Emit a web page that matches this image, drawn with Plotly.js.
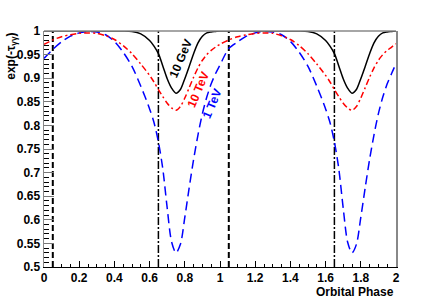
<!DOCTYPE html>
<html>
<head>
<meta charset="utf-8">
<script src="https://cdn.plot.ly/plotly-3.0.1.min.js"></script>
<style>html,body{margin:0;padding:0;background:#fff}#chart{width:440px;height:301px}</style>
</head>
<body>
<div id="chart"></div>
<script>
// Orbital phase samples (two orbits)
const phase = [0,0.05,0.1,0.15,0.2,0.25,0.3,0.35,0.4,0.45,0.5,0.55,0.6,0.625,0.65,0.675,0.7,0.725,0.75,0.775,0.8,0.825,0.85,0.875,0.9,0.925,0.95,0.975,1.0,
  1.05,1.1,1.15,1.2,1.25,1.3,1.35,1.4,1.45,1.5,1.55,1.6,1.625,1.65,1.675,1.7,1.725,1.75,1.775,1.8,1.825,1.85,1.875,1.9,1.925,1.95,1.975,2.0];
// exp(-tau) for 10 GeV photons
const gev10 = [1.0,1.0,1.0,1.0,1.0,1.0,1.0,1.0,1.0,1.0,0.999,0.994,0.980,0.968,0.952,0.926,0.899,0.879,0.868,0.876,0.899,0.925,0.952,0.975,0.989,0.996,0.998,0.999,1.0,
  1.0,1.0,1.0,1.0,1.0,1.0,1.0,1.0,1.0,0.999,0.994,0.980,0.968,0.952,0.926,0.899,0.879,0.868,0.876,0.899,0.925,0.952,0.975,0.989,0.996,0.998,0.999,1.0];
// exp(-tau) for 10 TeV photons
const tev10 = [0.972,0.981,0.988,0.992,0.995,0.996,0.995,0.990,0.982,0.969,0.952,0.930,0.906,0.892,0.876,0.861,0.847,0.837,0.832,0.840,0.858,0.880,0.902,0.922,0.938,0.950,0.959,0.966,0.972,
  0.981,0.988,0.992,0.995,0.996,0.995,0.990,0.982,0.969,0.952,0.930,0.906,0.892,0.876,0.861,0.847,0.837,0.832,0.840,0.858,0.880,0.902,0.922,0.938,0.950,0.959,0.966,0.973];
// exp(-tau) for 1 TeV photons
const tev1 = [0.942,0.961,0.977,0.989,0.996,0.999,0.998,0.992,0.978,0.955,0.925,0.883,0.835,0.806,0.765,0.708,0.625,0.553,0.530,0.548,0.605,0.668,0.728,0.780,0.825,0.860,0.888,0.910,0.928,
  0.963,0.977,0.989,0.996,0.999,0.998,0.992,0.978,0.955,0.925,0.883,0.835,0.806,0.765,0.708,0.625,0.553,0.530,0.548,0.605,0.668,0.728,0.780,0.825,0.860,0.888,0.910,0.931];
const dashedPhases = [0.05, 1.05];
const dashDotPhases = [0.65, 1.65];
const yRange = [0.5, 1.0];
const curveLabels = ['10 GeV', '10 TeV', '1 TeV'];
const labelX = [0.778, 0.874, 0.955];
const labelY = [0.943, 0.876, 0.845];

const traces = [];
dashedPhases.forEach(p => traces.push({x:[p,p], y:yRange, mode:'lines', line:{color:'#000', width:2, dash:'6px,3px'}, hoverinfo:'skip'}));
dashDotPhases.forEach(p => traces.push({x:[p,p], y:yRange, mode:'lines', line:{color:'#000', width:1.5, dash:'8px,2px,2px,2px'}, hoverinfo:'skip'}));
traces.push({x:phase, y:tev1, mode:'lines', line:{color:'#0000ff', width:1.5, dash:'9px,5px', shape:'spline', smoothing:0.8}});
traces.push({x:phase, y:tev10, mode:'lines', line:{color:'#ff0000', width:1.5, dash:'6px,3px,2px,3px', shape:'spline', smoothing:0.8}});
traces.push({x:phase, y:gev10, mode:'lines', line:{color:'#000000', width:1.5, shape:'spline', smoothing:0.8}});

const tfont = {family:'Liberation Sans, Arial, sans-serif', size:12, color:'#000', weight:'bold'};
const colors = ['#000000','#ff0000','#0000ff'];
const annotations = curveLabels.map((t,i) => ({x:labelX[i], y:labelY[i], xref:'x', yref:'y', text:t, showarrow:false, textangle:-67, font:Object.assign({}, tfont, {color:colors[i]})}));
annotations.push({x:1, y:-0.105, xref:'paper', yref:'paper', xanchor:'right', yanchor:'middle', text:'Orbital Phase', showarrow:false, font:tfont});
annotations.push({x:-0.093, y:1.0, xref:'paper', yref:'paper', xanchor:'center', yanchor:'top', text:'exp(-τ<sub>γγ</sub>)', showarrow:false, textangle:-90, font:tfont});

const layout = {
  width:440, height:301,
  margin:{l:44, r:44, t:31, b:34},
  paper_bgcolor:'#fff', plot_bgcolor:'#fff',
  showlegend:false,
  font:tfont,
  xaxis:{range:[0,2], dtick:0.2, tick0:0, ticks:'inside', ticklen:6, tickwidth:1, tickcolor:'#000',
    minor:{dtick:0.05, ticklen:3, ticks:'inside', tickcolor:'#000'},
    showgrid:false, zeroline:false, showline:true, linecolor:'#000', linewidth:1, mirror:false,
    tickfont:tfont},
  yaxis:{range:[0.5,1.0], dtick:0.05, tick0:0.5, ticks:'inside', ticklen:10, tickwidth:1, tickcolor:'#777',
    minor:{dtick:0.01, ticklen:5, ticks:'inside', tickcolor:'#000'},
    showgrid:false, zeroline:false, showline:true, linecolor:'#888', linewidth:1.5, mirror:true,
    tickfont:tfont},
  shapes:[{type:'line', xref:'paper', yref:'paper', x0:0, x1:1, y0:1, y1:1, line:{color:'#888', width:1.5}}],
  annotations:annotations
};
Plotly.newPlot('chart', traces, layout, {staticPlot:true, displayModeBar:false});
</script>
</body>
</html>
